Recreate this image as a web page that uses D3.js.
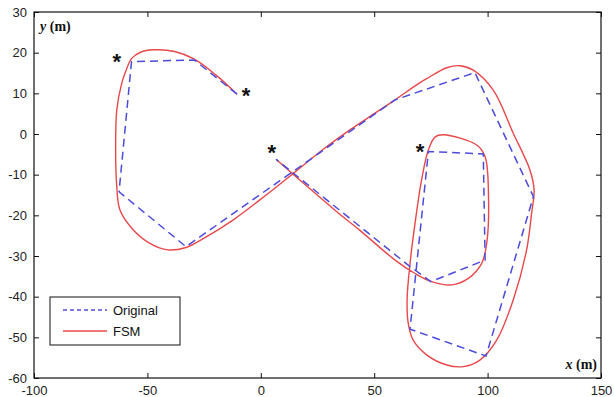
<!DOCTYPE html>
<html>
<head>
<meta charset="utf-8">
<script src="https://cdn.jsdelivr.net/npm/d3@7"></script>
<style>
  body { margin: 0; background: #fff; }
  svg text { font-family: "Liberation Sans", Arial, sans-serif; }
</style>
</head>
<body>
<svg id="chart" width="614" height="397"></svg>
<script>
const xTicks = [-100, -50, 0, 50, 100, 150];
const yTicks = [-60, -50, -40, -30, -20, -10, 0, 10, 20, 30];

// waypoints (dashed)
const original = [
  [-10.5, 9.8], [-29.3, 18.2], [-57, 17.8], [-62.5, -14.2], [-33, -27.7],
  [59.2, 8.4], [94.4, 15.1], [120.2, -15.4], [99.3, -54.6], [65.8, -48],
  [73.9, -4.3], [98.1, -4.9], [98.9, -31], [75, -36.3], [65.8, -32.6], [6.7, -6.2]
];

// smoothed path (solid)
const fsm = [
  [-10.5, 9.8], [-20, 14.6], [-29.3, 18.4], [-38, 20.3], [-47.4, 20.7], [-53, 20.1],
  [-56.9, 18.6], [-59.5, 15.5], [-61.3, 12.5], [-63.5, 5.9], [-64, -4], [-63.6, -12.1],
  [-62.1, -18.7], [-56.2, -23.6], [-48.9, -26.9], [-41, -28.5], [-33, -27.9], [-25, -25.6],
  [-12.1, -21.1], [-0.4, -16.2], [14.1, -9.8], [27, -4], [39.3, 1.0], [50, 5], [59.2, 8.4],
  [68.7, 12.1], [73.1, 13.6], [82, 16.3], [87.8, 16.8], [93.7, 15.7], [102.5, 10.8],
  [111.3, 0.2], [118.7, -8.9], [120.5, -13.8], [119.4, -19.5], [117.2, -28.5], [111.3, -40.8],
  [104, -50.7], [96.6, -55.6], [89.3, -57.2], [82, -56.8], [73.1, -54.3], [67.2, -50.7],
  [65, -46.5], [64.5, -40.8], [65.8, -31.8], [68, -22], [70.9, -11.3], [73.9, -3.9],
  [76.9, -0.7], [80.5, -0.2], [95.2, -2.7], [98.9, -5.6], [100.4, -15.4], [99.6, -26.9],
  [97.4, -31.8], [91.5, -35.5], [84.2, -37.1], [75.3, -36.3], [68, -34.3], [59.2, -31],
  [43.7, -23.7], [33.5, -19.1], [14.1, -9.8], [6.7, -6.2]
];

const stars = [[-63.5, 18.4], [-6.5, 10.2], [4.8, -3.9], [70.2, -3.8]];
const legendLabels = ['Original', 'FSM'];

const blue = '#4b4bde', red = '#e8484a';

const svg = d3.select('#chart'),
  margin = {top: 12, left: 34, bottom: 19, right: 13},
  width = +svg.attr('width') - margin.left - margin.right,
  height = +svg.attr('height') - margin.top - margin.bottom;

const x = d3.scaleLinear().domain([-100, 150]).range([0, width]);
const y = d3.scaleLinear().domain([-60, 30]).range([height, 0]);

const g = svg.append('g')
  .attr('transform', 'translate(' + margin.left + ',' + margin.top + ')');

function styleAxis(sel, hideText) {
  sel.select('.domain').remove();
  sel.selectAll('line').attr('stroke', '#111');
  sel.selectAll('text').attr('fill', '#222').style('font-size', '13px');
  if (hideText) sel.selectAll('text').remove();
}

const fmt = d => String(d);

g.append('g')
  .attr('transform', 'translate(0,' + height + ')')
  .call(d3.axisBottom(x).tickValues(xTicks).tickSize(-5).tickPadding(8).tickFormat(fmt))
  .call(styleAxis);
g.append('g')
  .call(d3.axisTop(x).tickValues(xTicks).tickSize(-5))
  .call(s => styleAxis(s, true));
g.append('g')
  .call(d3.axisLeft(y).tickValues(yTicks).tickSize(-5).tickPadding(7).tickFormat(fmt))
  .call(styleAxis);
g.append('g')
  .attr('transform', 'translate(' + width + ',0)')
  .call(d3.axisRight(y).tickValues(yTicks).tickSize(-5))
  .call(s => styleAxis(s, true));

g.append('rect')
  .attr('width', width).attr('height', height)
  .attr('fill', 'none').attr('stroke', '#111').attr('stroke-width', 1.2);

const line = d3.line().x(d => x(d[0])).y(d => y(d[1]));

g.append('path')
  .datum(fsm)
  .attr('fill', 'none')
  .attr('stroke', red)
  .attr('stroke-width', 1.4)
  .attr('d', line.curve(d3.curveCatmullRom.alpha(0.5)));

g.append('path')
  .datum(original)
  .attr('fill', 'none')
  .attr('stroke', blue)
  .attr('stroke-width', 1.5)
  .attr('stroke-dasharray', '8,5')
  .attr('d', line.curve(d3.curveLinear));

g.selectAll('.star')
  .data(stars)
  .enter().append('text')
  .attr('class', 'star')
  .attr('x', d => x(d[0]))
  .attr('y', d => y(d[1]) + 10)
  .attr('text-anchor', 'middle')
  .style('font-size', '22px')
  .style('font-weight', 'bold')
  .attr('fill', '#111')
  .text('*');

// axis labels inside the box
const yl = g.append('text')
  .attr('x', 6).attr('y', 19)
  .style('font-family', '"Liberation Serif", "Times New Roman", serif')
  .style('font-size', '14px').style('font-weight', 'bold').attr('fill', '#111');
yl.append('tspan').style('font-style', 'italic').text('y');
yl.append('tspan').text(' (m)');

const xl = g.append('text')
  .attr('x', width - 4).attr('y', height - 9)
  .attr('text-anchor', 'end')
  .style('font-family', '"Liberation Serif", "Times New Roman", serif')
  .style('font-size', '14px').style('font-weight', 'bold').attr('fill', '#111');
xl.append('tspan').style('font-style', 'italic').text('x');
xl.append('tspan').text(' (m)');

// legend
const legend = g.append('g').attr('transform', 'translate(16,285)');
legend.append('rect')
  .attr('width', 130).attr('height', 48)
  .attr('fill', '#fff').attr('stroke', '#111').attr('stroke-width', 1);
const items = legend.selectAll('.item')
  .data(legendLabels)
  .enter().append('g')
  .attr('transform', (d, i) => 'translate(0,' + (13 + i * 21) + ')');
items.append('line')
  .attr('x1', 13).attr('x2', 57)
  .attr('stroke', (d, i) => i === 0 ? blue : red)
  .attr('stroke-width', 1.4)
  .attr('stroke-dasharray', (d, i) => i === 0 ? '4,3' : null);
items.append('text')
  .attr('x', 63).attr('y', 5)
  .style('font-size', '13px').attr('fill', '#111')
  .text(d => d);
</script>
</body>
</html>
